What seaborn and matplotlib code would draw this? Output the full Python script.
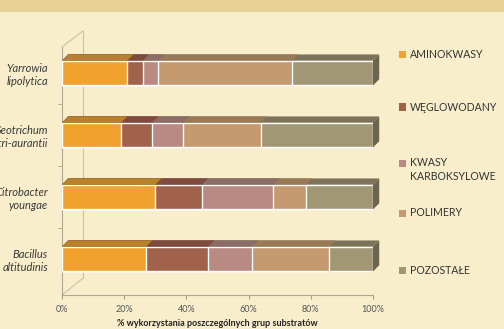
import numpy as np
import pandas as pd
import matplotlib
matplotlib.use('Agg')
import matplotlib.pyplot as plt
from matplotlib.patches import Polygon, Rectangle
import seaborn as sns

# data (percent of each substrate group)
strains = ['Yarrowia\nlipolytica', 'Geotrichum\ncitri-aurantii', 'Citrobacter\nyoungae', 'Bacillus\naltitudinis']
groups = ['AMINOKWASY', 'WĘGLOWODANY', 'KWASY\nKARBOKSYLOWE', 'POLIMERY', 'POZOSTAŁE']
aminokwasy = [21, 19, 30, 27]
weglowodany = [5, 10, 15, 20]
kwasy = [5, 10, 23, 14]
polimery = [43, 25, 10.5, 25]
pozostale = [26, 36, 21.5, 14]

front_colors = ['#F0A12E', '#A1624B', '#B88A82', '#C49A6E', '#A19775']
top_colors = ['#B98128', '#7E4B3C', '#8C6C66', '#9A7A56', '#7C745A']
side_color = '#6B654E'
bg = '#F8EECB'

sns.set_style('white')
plt.rcParams['font.family'] = ['Lato', 'DejaVu Sans']

df = pd.DataFrame({'strain': strains, groups[0]: aminokwasy, groups[1]: weglowodany,
                   groups[2]: kwasy, groups[3]: polimery, groups[4]: pozostale})
cum = df[groups].cumsum(axis=1)

fig = plt.figure(figsize=(5.04, 3.29), dpi=100, facecolor=bg)
fig.patches.append(Rectangle((0, 1 - 12 / 329), 1, 12 / 329, transform=fig.transFigure,
                             facecolor='#E8D196', edgecolor='none', zorder=0))
ax = fig.add_axes([62 / 504, 1 - 295 / 329, 311 / 504, 248 / 329])
ax.set_facecolor(bg)

bar_h = 0.4
dx, dy = 2.0, 0.1
for i in reversed(range(len(groups))):
    before = len(ax.patches)
    sns.barplot(x=cum[groups[i]], y=df['strain'], orient='h', color=front_colors[i],
                width=bar_h, saturation=1, ax=ax, zorder=2 + (4 - i) * 2)
    for p in ax.patches[before:]:
        x0, y0, w, h = p.get_x(), p.get_y(), p.get_width(), p.get_height()
        top = Polygon([(x0, y0), (x0 + dx, y0 - dy), (x0 + w + dx, y0 - dy), (x0 + w, y0)],
                      closed=True, facecolor=top_colors[i], edgecolor='none',
                      zorder=2 + (4 - i) * 2 + 1, clip_on=False)
        ax.add_patch(top)
        if i == len(groups) - 1:
            side = Polygon([(x0 + w, y0), (x0 + w + dx, y0 - dy), (x0 + w + dx, y0 + h - dy), (x0 + w, y0 + h)],
                           closed=True, facecolor=side_color, edgecolor='none', zorder=3, clip_on=False)
            ax.add_patch(side)

ax.set_xlim(0, 100)
ax.set_ylim(3.58, -0.42)
ax.set_xticks([0, 20, 40, 60, 80, 100])
ax.set_xticklabels(['0%', '20%', '40%', '60%', '80%', '100%'], fontsize=6.5, color='#555555')
ax.set_yticks(range(len(strains)))
ax.set_yticklabels(strains, fontsize=8, style='italic', color='#3A3A3A')
ax.set_yticks([0.5, 1.5, 2.5], minor=True)
ax.tick_params(axis='y', which='major', length=0, pad=10)
ax.tick_params(axis='y', which='minor', length=3, color='#A8A090', left=True)
ax.tick_params(axis='x', length=3, color='#A8A090', bottom=True, pad=4)
ax.set_xlabel('% wykorzystania poszczególnych grup substratów', fontsize=6.5,
              fontweight='bold', color='#222222', labelpad=4)
ax.set_ylabel('')
for s in ['top', 'right']:
    ax.spines[s].set_visible(False)
for s in ['left', 'bottom']:
    ax.spines[s].set_color('#B0A890')
    ax.spines[s].set_linewidth(0.8)

# 3d back wall edges
wx = 21 / 311
ax.plot([wx, wx], [17 / 248, 1.065], transform=ax.transAxes, color='#C9C0AA', lw=0.8, clip_on=False, zorder=1)
ax.plot([0, wx], [0, 17 / 248], transform=ax.transAxes, color='#C9C0AA', lw=0.8, clip_on=False, zorder=1)
ax.plot([0, wx], [1.0, 1.065], transform=ax.transAxes, color='#C9C0AA', lw=0.8, clip_on=False, zorder=1)

# legend, one slot per group like the original
legend_y = [55, 107, 163, 213, 270]
for i, g in enumerate(groups):
    y = 1 - legend_y[i] / 329
    fig.patches.append(Rectangle((399 / 504, y - 3.5 / 329), 7 / 504, 7 / 329, transform=fig.transFigure,
                                 facecolor=front_colors[i], edgecolor='none'))
    fig.text(410 / 504, y + 5.5 / 329, g, fontsize=7.6, color='#333333', va='top', ha='left',
             linespacing=1.25)

fig.savefig('out.png', dpi=100, facecolor=bg)
